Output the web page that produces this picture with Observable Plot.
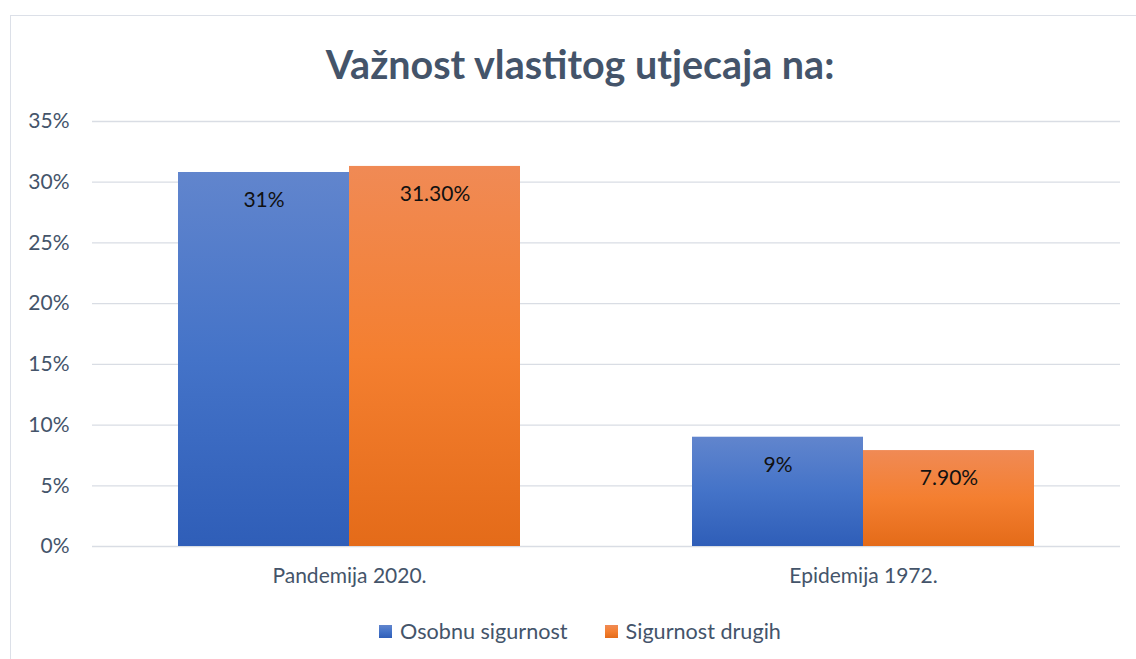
<!DOCTYPE html>
<html>
<head>
<meta charset="utf-8">
<script src="https://cdn.jsdelivr.net/npm/d3@7"></script>
<script src="https://cdn.jsdelivr.net/npm/@observablehq/plot@0.6"></script>
<style>
  body { margin: 0; background: #fff; font-family: Lato, "Open Sans", sans-serif; }
  #frame { position: absolute; left: 10px; top: 15px; width: 1140px; height: 660px; border: 1px solid #DCE0E8; box-sizing: border-box; }
  #title { position: absolute; left: 0; width: 1160px; top: 39px; text-align: center; font-weight: bold; font-size: 39.5px; color: #44546A; line-height: 50px; }
  #chart { position: absolute; left: 0; top: 100px; }
  #legend { position: absolute; left: 0; width: 1160px; top: 618px; display: flex; justify-content: center; gap: 37px; font-size: 21.6px; color: #44546A; line-height: 26px; }
  .item { display: flex; align-items: center; gap: 8px; }
  .sw { width: 13px; height: 13px; }
</style>
</head>
<body>
<div id="frame"></div>
<div id="title">Važnost vlastitog utjecaja na:</div>
<div id="chart"></div>
<div id="legend"></div>
<script>
const categories = ["Pandemija 2020.", "Epidemija 1972."];
const seriesNames = ["Osobnu sigurnost", "Sigurnost drugih"];
const osobnuValues = [0.308, 0.090];
const drugihValues = [0.313, 0.079];
const osobnuLabels = ["31%", "9%"];
const drugihLabels = ["31.30%", "7.90%"];
const yTicks = [0, 0.05, 0.10, 0.15, 0.20, 0.25, 0.30, 0.35];
const seriesFills = ["url(#gBlue)", "url(#gOrange)"];

const rows = [];
categories.forEach((c, i) => {
  rows.push({category: c, series: seriesNames[0], value: osobnuValues[i], label: osobnuLabels[i]});
  rows.push({category: c, series: seriesNames[1], value: drugihValues[i], label: drugihLabels[i]});
});

const svg = Plot.plot({
  width: 1136,
  height: 500,
  marginTop: 21,
  marginBottom: 54,
  marginLeft: 91,
  marginRight: 16,
  style: {fontFamily: "Lato, 'Open Sans', sans-serif", fontSize: "21px", color: "#44546A", background: "transparent"},
  fx: {domain: categories, padding: 0, tickSize: 0, tickPadding: 22, label: null, fontSize: "21.5px"},
  x: {domain: seriesNames, paddingInner: 0, paddingOuter: 0.5, axis: null},
  y: {domain: [0, 0.35], ticks: yTicks, tickFormat: d => Math.round(d * 100) + "%", tickSize: 0, tickPadding: 23, label: null},
  color: {domain: seriesNames, range: seriesFills},
  marks: [
    Plot.ruleY(yTicks, {stroke: "#D9DDE4", strokeWidth: 1.3}),
    Plot.barY(rows, {fx: "category", x: "series", y: "value", fill: "series"}),
    Plot.text(rows, {fx: "category", x: "series", y: "value", text: "label", dy: 28, fill: "#111", fontSize: 21})
  ]
});

const ns = "http://www.w3.org/2000/svg";
const defs = document.createElementNS(ns, "defs");
function grad(id, stops) {
  const g = document.createElementNS(ns, "linearGradient");
  g.setAttribute("id", id);
  g.setAttribute("x1", "0"); g.setAttribute("y1", "0");
  g.setAttribute("x2", "0"); g.setAttribute("y2", "1");
  stops.forEach(([o, c]) => {
    const s = document.createElementNS(ns, "stop");
    s.setAttribute("offset", o);
    s.setAttribute("stop-color", c);
    g.appendChild(s);
  });
  defs.appendChild(g);
}
grad("gBlue", [["0", "#6185CD"], ["0.5", "#4473C8"], ["1", "#2F5EB8"]]);
grad("gOrange", [["0", "#F08A55"], ["0.5", "#F47F30"], ["1", "#E46B19"]]);
svg.insertBefore(defs, svg.firstChild);
document.getElementById("chart").appendChild(svg);

const legend = document.getElementById("legend");
const swatchBg = ["linear-gradient(#6185CD, #4473C8, #2F5EB8)", "linear-gradient(#F08A55, #F47F30, #E46B19)"];
seriesNames.forEach((n, i) => {
  const item = document.createElement("div");
  item.className = "item";
  const sw = document.createElement("div");
  sw.className = "sw";
  sw.style.background = swatchBg[i];
  const t = document.createElement("span");
  t.textContent = n;
  item.appendChild(sw); item.appendChild(t);
  legend.appendChild(item);
});
</script>
</body>
</html>
